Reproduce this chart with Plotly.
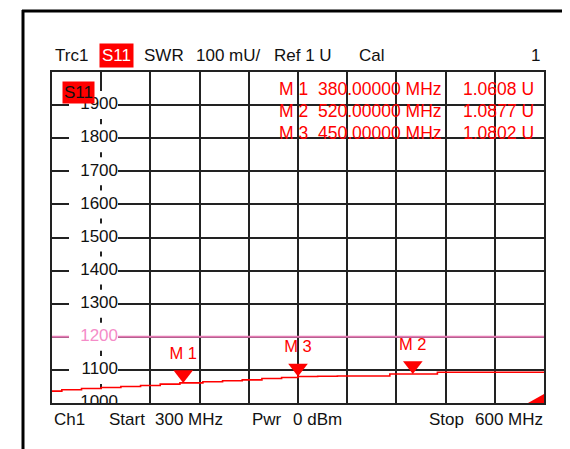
import plotly.graph_objects as go

# ---------------- data ----------------
freq_mhz = [300, 306, 318, 330, 342, 354, 366, 378, 392, 404, 416, 428, 440, 450,
            462, 474, 506, 535, 600]
swr_mu = [1036, 1040, 1044, 1047, 1050, 1053, 1057, 1060.8, 1064, 1067, 1070, 1074,
          1077, 1080.2, 1081, 1081.5, 1087.7, 1093, 1093]

marker_names = ["M 1", "M 2", "M 3"]
marker_freq = [380.0, 520.0, 450.0]
marker_swr = [1060.8, 1087.7, 1080.2]

ytick_values = [1000, 1100, 1200, 1300, 1400, 1500, 1600, 1700, 1800, 1900]
limit_value = 1200

# ---------------- layout geometry ----------------
# page coordinates (browser body has an 8px margin)
OFF = 8
PAGE_W, PAGE_H = 570, 449
PL, PR, PT, PB = 52, 544, 72, 403          # plot area in page pixels
W, H = PAGE_W - OFF, PAGE_H - OFF
L, T = PL - OFF, PT - OFF
R, B = W - (PR - OFF), H - (PB - OFF)
PW, PH = PR - PL, PB - PT
FONT = "Liberation Sans, Arial, sans-serif"
RED = "#ff0000"
PINK_LINE = "#e57ab4"
PINK_TEXT = "#f58cc8"
GRID = "#222222"


def px(x):
    return (x - PL) / PW


def py(y):
    return (PB - y) / PH


x0, x1 = 300, 600
y0, y1 = 1000, 2000
unit_per_px = (y1 - y0) / PH
mhz_per_px = (x1 - x0) / PW

fig = go.Figure()

# main trace
fig.add_trace(go.Scatter(
    x=freq_mhz, y=swr_mu, mode="lines", line=dict(color=RED, width=1.6, shape="hv"),
    hoverinfo="skip", showlegend=False))

# y tick labels inside the grid (clipped to plot area)
lab_x = x0 + (118 - PL) * mhz_per_px
fig.add_trace(go.Scatter(
    x=[lab_x] * len(ytick_values), y=ytick_values, mode="text",
    text=[str(v) for v in ytick_values], textposition="middle left",
    textfont=dict(family=FONT, size=17,
                  color=[PINK_TEXT if v == limit_value else "#111111" for v in ytick_values]),
    cliponaxis=True, hoverinfo="skip", showlegend=False))

# markers (on shifted axis so the tip of the triangle sits on the value)
msize = 17
shift = (msize / 2) * unit_per_px
fig.add_trace(go.Scatter(
    x=marker_freq, y=marker_swr, yaxis="y2", mode="markers+text",
    marker=dict(symbol="triangle-down", size=msize, color=RED, line=dict(width=0)),
    text=marker_names, textposition="top center",
    textfont=dict(family=FONT, size=16.5, color=RED),
    hoverinfo="skip", showlegend=False))

shapes = []
# limit line
shapes.append(dict(type="line", xref="x", yref="y", x0=x0, x1=x1, y0=limit_value,
                   y1=limit_value, layer="between", line=dict(color=PINK_LINE, width=2)))
# white boxes behind y labels
half_h = 14 * unit_per_px
bx0 = x0 + (69 - PL) * mhz_per_px
bx1 = x0 + (118 - PL) * mhz_per_px
for v in ytick_values:
    shapes.append(dict(type="rect", xref="x", yref="y", x0=bx0, x1=bx1,
                       y0=v - half_h, y1=v + half_h, fillcolor="white",
                       line=dict(width=0), layer="between"))
# outer frame lines
shapes.append(dict(type="line", xref="paper", yref="paper", x0=px(22), x1=px(575),
                   y0=py(11), y1=py(11), line=dict(color="black", width=3)))
shapes.append(dict(type="line", xref="paper", yref="paper", x0=px(23), x1=px(23),
                   y0=py(10), y1=py(455), line=dict(color="black", width=3)))
# off-screen indicator triangle bottom right
shapes.append(dict(type="path", xref="paper", yref="paper",
                   path=f"M {px(528)},{py(403)} L {px(544)},{py(403)} L {px(544)},{py(394)} Z",
                   fillcolor=RED, line=dict(width=0)))

ann = []


def text(s, x, y, anchor="left", color="#111111", size=17, bg=None, **kw):
    d = dict(text=s, xref="paper", yref="paper", x=px(x), y=py(y), xanchor=anchor,
             yanchor="middle", showarrow=False,
             font=dict(family=FONT, size=size, color=color))
    if bg:
        d["bgcolor"] = bg
    d.update(kw)
    ann.append(d)


# header
hy = 56
text("Trc1", 53, hy)
text("S11", 116, hy, anchor="center", color="white", bg=RED, borderpad=2)
text("SWR", 142, hy)
text("100 mU/", 194, hy)
text("Ref 1 U", 272, hy)
text("Cal", 357, hy)
text("1", 542, hy, anchor="right")

# S11 trace label inside grid
text("S11", 78, 92, anchor="center", color="#111111", bg=RED, borderpad=1)

# marker table
rows_y = [89, 111, 133]
for name, f, v, yy in zip(marker_names, marker_freq, marker_swr, rows_y):
    text(name, 277, yy, color=RED, size=17.5)
    text(f"{f:.5f} MHz", 444, yy, anchor="right", color=RED, size=17.5)
    text(f"{v / 1000:.4f} U", 536, yy, anchor="right", color=RED, size=17.5)

# footer
fy = 420
text("Ch1", 52, fy)
text("Start", 107, fy)
text(f"{x0} MHz", 153, fy)
text("Pwr", 250, fy)
text("0 dBm", 291, fy)
text("Stop", 427, fy)
text(f"{x1} MHz", 545, fy, anchor="right")

fig.update_layout(
    width=W, height=H, margin=dict(l=L, r=R, t=T, b=B, pad=0),
    paper_bgcolor="white", plot_bgcolor="white",
    shapes=shapes, annotations=ann, showlegend=False,
    xaxis=dict(range=[x0, x1], tick0=x0, dtick=30, showgrid=True, gridcolor=GRID,
               gridwidth=1.6, showticklabels=False, ticks="", zeroline=False,
               showline=True, mirror=True, linecolor=GRID, linewidth=2, fixedrange=True),
    yaxis=dict(range=[y0, y1], tick0=y0, dtick=100, showgrid=True, gridcolor=GRID,
               gridwidth=1.6, showticklabels=False, ticks="", zeroline=False,
               showline=True, mirror=True, linecolor=GRID, linewidth=2, fixedrange=True),
    yaxis2=dict(range=[y0 - shift, y1 - shift], overlaying="y", visible=False,
                showgrid=False, fixedrange=True),
)

fig.write_html("out.html")
